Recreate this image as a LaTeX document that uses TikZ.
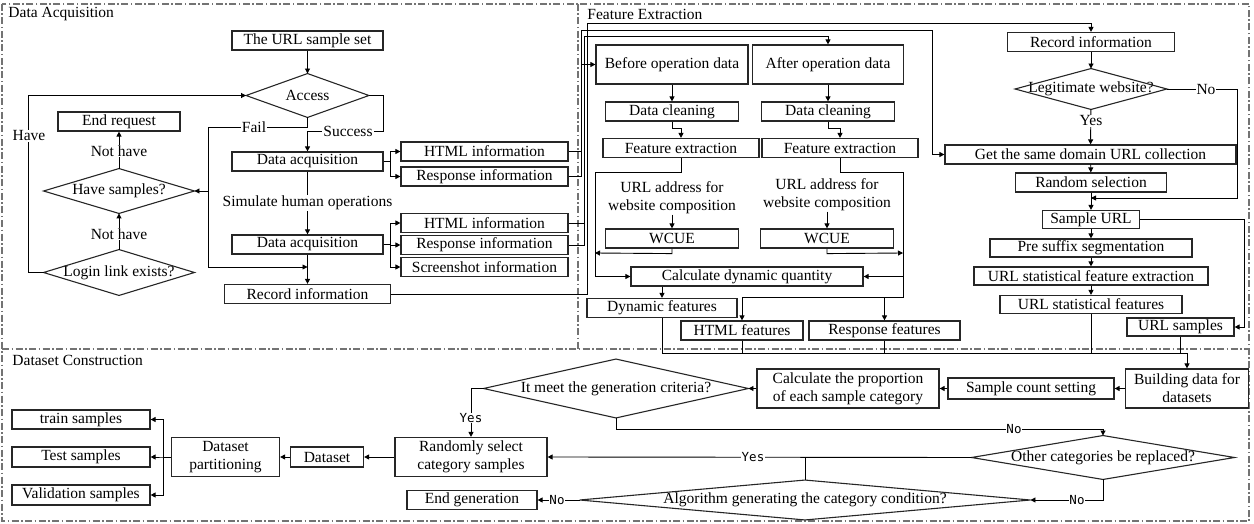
\documentclass[tikz,border=0pt]{standalone}
\usepackage{fontspec}
\setmainfont{Liberation Serif}
\newfontfamily\ynfont{DejaVu Sans Mono}
\usetikzlibrary{arrows.meta,positioning}
\tikzset{
  box/.style={draw=black!85,line width=1.2pt,inner sep=0pt,minimum height=19pt,align=center,font=\fontsize{15.5}{18}\selectfont},
  tbox/.style={box,minimum height=39pt},
  dec/.style={inner sep=0pt,align=center,font=\fontsize{15.5}{18}\selectfont},
  lbl/.style={fill=white,inner sep=1pt,font=\fontsize{15.5}{18}\selectfont},
  yn/.style={fill=white,inner sep=0.5pt,font=\ynfont\fontsize{12.5}{14}\selectfont},
  frame/.style={draw=black!55,line width=1.2pt,dash pattern=on 7pt off 2.5pt on 1.5pt off 2.5pt},
  title/.style={anchor=west,inner sep=0pt,font=\fontsize{15.5}{18}\selectfont}
}
\newcommand{\decshape}[1]{\draw[draw=black!85,line width=1.1pt] (#1.west)--(#1.north)--(#1.east)--(#1.south)--cycle;}
\begin{document}
\begin{tikzpicture}[x=1pt,y=-1pt,>={Triangle[length=5pt,width=5pt]},line width=0.9pt]
\useasboundingbox (0,0) rectangle (1254,524);
\draw[frame] (2,4) rectangle (1249,521);
\draw[frame] (2,349) -- (1249,349);
\draw[frame] (578,4) -- (578,349);
\node[title] (tda) at (8,14) {Data Acquisition};
\node[title] (tfe) at (587,14) {Feature Extraction};
\node[title] (tdc) at (12,360) {Dataset Construction};

% data acquisition
\node[box,minimum width=151pt] (set) at (307.5,40.5) {The URL sample set};
\node[dec,minimum width=122pt,minimum height=43pt] (acc) at (307.5,95.5) {Access};
\node[box,minimum width=122pt] (endr) at (119,121.5) {End request};
\node[dec,minimum width=150pt,minimum height=44pt] (hs) at (119,191) {Have samples?};
\node[dec,minimum width=150pt,minimum height=45pt] (login) at (119,272.5) {Login link exists?};
\node[box,minimum width=151pt] (da1) at (307.5,161.5) {Data acquisition};
\node[box,minimum width=151pt] (da2) at (307.5,244.5) {Data acquisition};
\node[box,minimum width=166pt] (recda) at (307.5,294) {Record information};
\node[box,minimum width=167pt] (html1) at (484.5,151.5) {HTML information};
\node[box,minimum width=167pt] (resp1) at (484.5,176.5) {Response information};
\node[box,minimum width=167pt] (html2) at (484.5,223) {HTML information};
\node[box,minimum width=167pt] (resp2) at (484.5,245) {Response information};
\node[box,minimum width=167pt] (shot) at (484.5,267) {Screenshot information};
\decshape{acc}
\decshape{hs}
\decshape{login}

% feature extraction
\node[tbox,minimum width=152pt] (bop) at (672,64.5) {Before operation data};
\node[tbox,minimum width=151pt] (aop) at (828,64.5) {After operation data};
\node[box,minimum width=133pt] (dc1) at (672,111.5) {Data cleaning};
\node[box,minimum width=133pt] (dc2) at (828,111.5) {Data cleaning};
\node[box,minimum width=156pt] (fe1) at (681,148) {Feature extraction};
\node[box,minimum width=156pt] (fe2) at (840,148) {Feature extraction};
\node[dec] (url1) at (672,198) {URL address for\\website composition};
\node[dec] (url2) at (827,195) {URL address for\\website composition};
\node[box,minimum width=133pt] (wc1) at (672,238.5) {WCUE};
\node[box,minimum width=133pt] (wc2) at (827,238.5) {WCUE};
\node[box,minimum width=232pt] (cdq) at (747,276.5) {Calculate dynamic quantity};
\node[box,minimum width=150pt] (dynf) at (662,308) {Dynamic features};
\node[box,minimum width=122pt] (htmlf) at (742,330.5) {HTML features};
\node[box,minimum width=151pt] (respf) at (884.5,330.5) {Response features};
\node[box,minimum width=167pt] (recfe) at (1091,42) {Record information};
\node[dec,minimum width=151pt,minimum height=40pt] (legit) at (1091,89) {Legitimate website?};
\node[box,minimum width=291pt] (gsd) at (1090.5,154.5) {Get the same domain URL collection};
\node[box,minimum width=151pt] (rs) at (1091,182.5) {Random selection};
\node[box,minimum width=97pt,minimum height=18pt] (surl) at (1091,219.5) {Sample URL};
\node[box,minimum width=202pt,minimum height=18pt] (psseg) at (1091,248) {Pre suffix segmentation};
\node[box,minimum width=234pt,minimum height=18pt] (usfe) at (1091,276) {URL statistical feature extraction};
\node[box,minimum width=182pt,minimum height=18pt] (usf) at (1091,304.5) {URL statistical features};
\node[box,minimum width=107pt,minimum height=18pt] (usam) at (1180.5,327) {URL samples};
\decshape{legit}

% dataset construction
\node[tbox,minimum width=123pt] (bd) at (1187,388.5) {Building data for\\datasets};
\node[box,minimum width=166pt,minimum height=21pt] (scs) at (1031,388.5) {Sample count setting};
\node[tbox,minimum width=182pt] (cprop) at (848,388.5) {Calculate the proportion\\of each sample category};
\node[dec,minimum width=264pt,minimum height=58pt] (meet) at (616,388.5) {It meet the generation criteria?};
\node[tbox,minimum width=152pt] (rsel) at (471,457) {Randomly select\\category samples};
\node[box,minimum width=73pt,minimum height=20pt] (ds) at (327,457) {Dataset};
\node[tbox,minimum width=108pt] (dpart) at (225.5,457) {Dataset\\partitioning};
\node[box,minimum width=138pt] (train) at (81,419.5) {train samples};
\node[box,minimum width=138pt,minimum height=20pt] (test) at (81,457) {Test samples};
\node[box,minimum width=138pt,minimum height=20pt] (valid) at (81,495) {Validation samples};
\node[dec,minimum width=262pt,minimum height=43pt] (other) at (1103,457.5) {Other categories be replaced?};
\node[dec,minimum width=450pt,minimum height=39pt] (algo) at (805,500) {Algorithm generating the category condition?};
\node[box,minimum width=130pt] (endg) at (472,500) {End generation};
\decshape{meet}
\decshape{other}
\decshape{algo}

\coordinate (jfail) at (208,127);
\coordinate (jrec) at (307.5,267);
\coordinate (b1) at (581,30);
\coordinate (b2) at (584,36);
\coordinate (b3) at (587,23);
\coordinate (lv) at (595,172);
\coordinate (rv) at (903,172);
\coordinate (jf) at (903,297);

\draw[->] (set) -- (acc);
\draw[->] (acc.south) |- (jfail) |- (jrec);
\draw[->] (hs.east -| jfail) -- (hs.east);
\draw[->] (acc.east) -| (383,131) -| (da1.north);
\draw[->] (login.west) -- ++(-15,0) |- (acc.west);
\draw[->] (login) -- (hs);
\draw[->] (hs) -- (endr);
\draw[->] (da1) -- (da2);
\draw[->] (da2) -- (recda);
\foreach \n in {html1,resp1} \draw[->] (da1.east) -- ++(7,0) |- (\n.west);
\foreach \n in {html2,resp2,shot} \draw[->] (da2.east) -- ++(7,0) |- (\n.west);

\draw[->] (html1.east) -| (b1 |- bop.west) -- (bop.west);
\draw (resp1.east) -| (b1);
\draw[->] (b1) -| ([xshift=-12pt]gsd.west) -- (gsd.west);
\draw (html2.east) -| (b2);
\draw[->] (resp2.east) -| (b2) -| (aop.north);
\draw[->] (recda.east) -| (b3) -| (recfe.north);

\draw[->] (bop) -- (dc1);
\draw[->] (aop) -- (dc2);
\draw[->] (dc1.south) -- ++(0,7) -| (fe1.north);
\draw[->] (dc2.south) -- ++(0,7) -| (fe2.north);
\draw[->] (url1) -- (wc1);
\draw[->] (url2) -- (wc2);
\draw[->] (fe1.south) |- (lv) |- (cdq.west);
\draw[->] (wc1.south) -- ++(0,5) -- (lv |- 0,253);
\draw[->] (fe2.south) |- (rv) -- (jf) -| (htmlf.north);
\draw[->] (wc2.south) -- ++(0,5) -- (rv |- 0,253);
\draw[->] (rv |- cdq.east) -- (cdq.east);
\draw[->] (jf -| respf.north) -- (respf.north);
\draw[->] (cdq.south -| dynf.north) -- (dynf.north);

\draw[->] (recfe) -- (legit);
\draw[->] (legit) -- (gsd);
\draw[->] (gsd) -- (rs);
\draw[->] (rs) -- (surl);
\draw[->] (surl) -- (psseg);
\draw[->] (psseg) -- (usfe);
\draw[->] (usfe) -- (usf);
\draw[->] (legit.east) -- ++(70,0) |- (rs.south |- 0,198);
\draw[->] (surl.east) -- ++(104,0) |- (usam.east);

\draw[->] (dynf.south) |- (bd.north |- 0,353) -- (bd.north);
\foreach \n in {htmlf,respf,usf,usam} \draw (\n.south) -- (\n.south |- 0,353);

\draw[->] (bd) -- (scs);
\draw[->] (scs) -- (cprop);
\draw[->] (cprop) -- (meet);
\draw[->] (meet.west) -| (rsel.north);
\draw[->] (meet.south) -- ++(0,11) -| (other.north);
\draw[->] (other.west) -- (rsel.east);
\draw (algo.north) -- (algo.north |- other.west);
\draw[->] (other.south) |- (algo.east);
\draw[->] (algo.west) -- (endg.east);
\draw[->] (rsel) -- (ds);
\draw[->] (ds) -- (dpart);
\foreach \n in {train,test,valid} \draw[->] (dpart.west) -- ++(-7,0) |- (\n.east);

% labels on the lines
\node[lbl] (lfail) at (254,127) {Fail};
\node[lbl] (lsucc) at (348,131) {Success};
\node[lbl] (lhave) at (29,136) {Have};
\node[lbl] (lnh1) at (119,151) {Not have};
\node[lbl] (lnh2) at (119,234) {Not have};
\node[lbl] (lsim) at (307.5,203) {Simulate human operations};
\node[lbl] (lyes1) at (1091,121) {Yes};
\node[lbl] (lno1) at (1206,90) {No};
\node[yn] (lyes2) at (471,418) {Yes};
\node[yn] (lno2) at (1014,429) {No};
\node[yn] (lyes3) at (753,457) {Yes};
\node[yn] (lno3) at (1077,500) {No};
\node[yn] (lno4) at (557,500) {No};
\end{tikzpicture}
\end{document}
